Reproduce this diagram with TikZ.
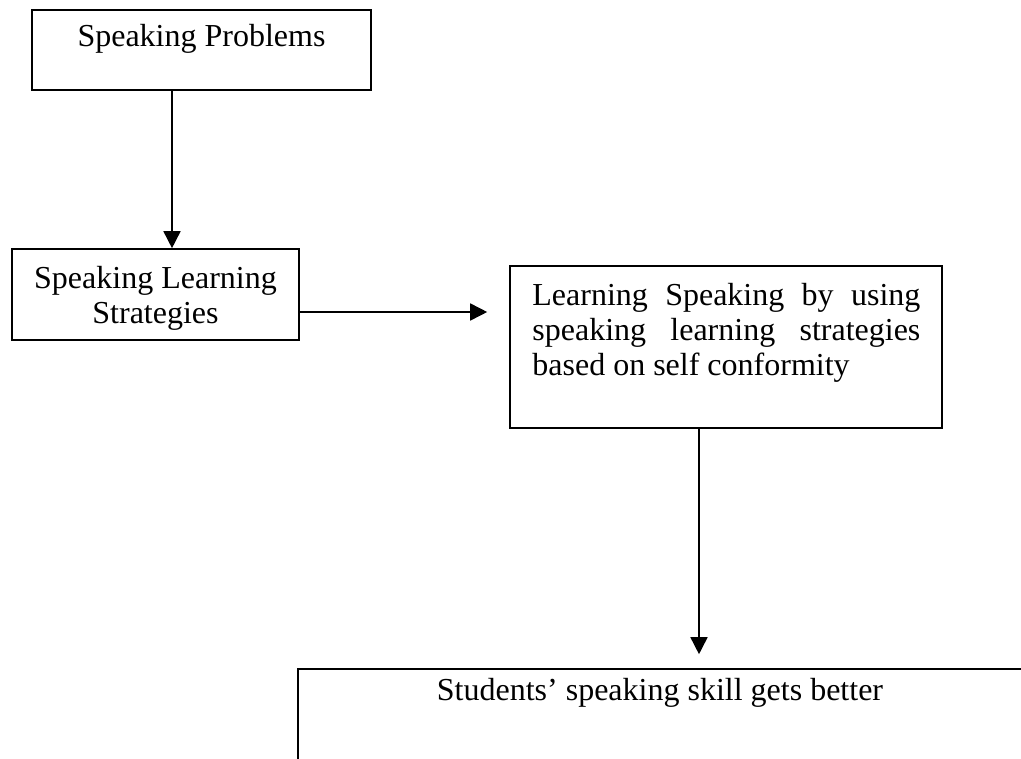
\documentclass[tikz,border=0pt]{standalone}
\usepackage{fontspec}
\setmainfont{Liberation Serif}
\usetikzlibrary{arrows.meta,positioning}
\tikzset{
  >={Triangle[length=8.5pt,width=8.5pt]},
  flowbox/.style={draw,line width=0.8pt,minimum width=#1,inner sep=0pt},
  boxtext/.style={inner sep=0pt,font=\fontsize{16}{17.5}\selectfont,align=center},
  link/.style={->,line width=0.8pt},
}
\begin{document}
\begin{tikzpicture}[x=0.5pt,y=-0.5pt]
  \useasboundingbox (0,0) rectangle (1021,759);
  % frames
  \node[flowbox={169.5pt},minimum height=40pt] (problems) at (201.5,50) {};
  \node[flowbox={143.5pt},minimum height=45.5pt] (strategies) at (155.5,294.5) {};
  \node[flowbox={216pt},minimum height=81pt] (conform) at (726,347) {};
  \node[flowbox={366pt},minimum height=65.5pt] (better) at (664,734.5) {};
  % texts
  \node[boxtext,anchor=base] (problems-t) at (201.5,47) {Speaking Problems};
  \node[boxtext,anchor=north] (strategies-t) at (155.5,266) {Speaking Learning\\Strategies};
  \node[boxtext,anchor=north west,text width=194pt,align=justify,
    execute at begin node={\tolerance=9999\hyphenpenalty=10000}] (conform-t) at (532,283)
    {Learning Speaking by using speaking learning strategies based on self conformity};
  \node[boxtext,anchor=base] (better-t) at (660,700) {Students' speaking skill gets better};
  % arrows
  \draw[link] ([xshift=-14.75pt]problems.south) coordinate (a1) -- (a1 |- strategies.north);
  \draw[link,shorten >=11pt] ([yshift=-8.75pt]strategies.east) coordinate (a2) -- (a2 -| conform.west);
  \draw[link,shorten >=7pt] ([xshift=-13.5pt]conform.south) coordinate (a3) -- (a3 |- better.north);
\end{tikzpicture}
\end{document}
